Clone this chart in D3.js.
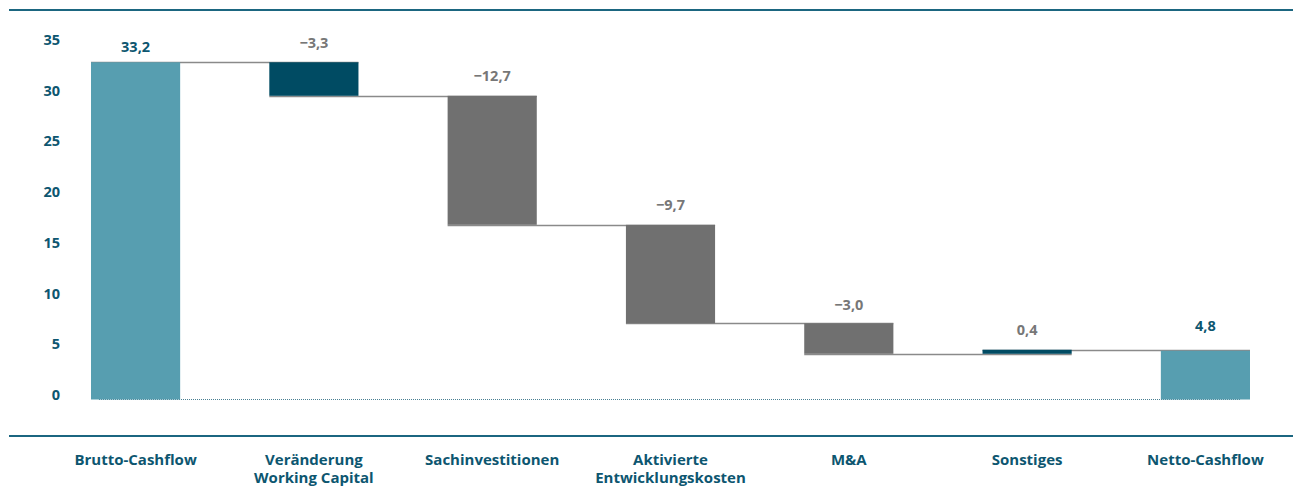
<!DOCTYPE html>
<html><head><meta charset="utf-8">
<script src="https://cdn.jsdelivr.net/npm/d3@7/dist/d3.min.js"></script>
<style>
body{margin:0;background:#fff;}
svg{display:block;font-family:"Open Sans","Noto Sans",sans-serif;}
</style></head>
<body><svg id="c" width="1293" height="486"></svg>
<script>
const categories = [["Brutto-Cashflow"],["Veränderung","Working Capital"],["Sachinvestitionen"],["Aktivierte","Entwicklungskosten"],["M&A"],["Sonstiges"],["Netto-Cashflow"]];
const values = [33.2, -3.3, -12.7, -9.7, -3.0, 0.4, 4.8];
const labels = ["33,2","\u22123,3","\u221212,7","\u22129,7","\u22123,0","0,4","4,8"];
const kinds = ["total","change","change","change","change","change","total"];
const yTicks = [0,5,10,15,20,25,30,35];

const colors = ["#579eb0","#004b63","#707070","#707070","#707070","#004b63","#579eb0"];
const labelColors = ["#0d5670","#777","#777","#777","#777","#777","#0d5670"];
const labelGap = [10,14,15,15,13,15,20];
const teal = "#0d5670";

const svg = d3.select("#c");
const x = d3.scaleBand().domain(d3.range(values.length)).range([91,1250]).paddingInner(0.5).paddingOuter(0);
const y = d3.scaleLinear().domain([0,35]).range([399.5, 44]);

let cum = 0;
const bars = values.map((v,i)=>{
  let y0,y1;
  if(kinds[i]==="total"){ y0=0; y1=v; cum=v; }
  else { y0=cum; y1=cum+v; cum=cum+v; }
  return {i, v, lo:Math.min(y0,y1), hi:Math.max(y0,y1), end:(kinds[i]==="total"?v:y1)};
});

svg.append("line").attr("x1",9).attr("x2",1293).attr("y1",10).attr("y2",10).attr("stroke","#1b6680").attr("stroke-width",2);
svg.append("line").attr("x1",9).attr("x2",1293).attr("y1",436).attr("y2",436).attr("stroke","#1b6680").attr("stroke-width",2);

svg.append("g").selectAll("text").data(yTicks).join("text")
  .attr("x",60).attr("y",d=>y(d)).attr("dy","0.05em")
  .attr("text-anchor","end").attr("fill",teal).attr("font-weight",700).attr("font-size",14.5)
  .text(d=>d);

svg.append("line").attr("x1",99).attr("x2",1240).attr("y1",y(0)).attr("y2",y(0))
  .attr("stroke","#4a7f92").attr("stroke-width",1).attr("stroke-dasharray","1,1");

const conn = svg.append("g");
for(let i=0;i<bars.length-1;i++){
  const lvl = bars[i].end;
  conn.append("line").attr("x1",x(i)).attr("x2",x(i+1)+x.bandwidth())
    .attr("y1",Math.round(y(lvl))+0.5).attr("y2",Math.round(y(lvl))+0.5)
    .attr("stroke","#8a8a8a").attr("stroke-width",1.5);
}

svg.append("g").selectAll("rect").data(bars).join("rect")
  .attr("x",d=>x(d.i)).attr("width",x.bandwidth())
  .attr("y",d=>y(d.hi)).attr("height",d=>Math.max(3,y(d.lo)-y(d.hi)))
  .attr("fill",d=>colors[d.i]);

svg.append("g").selectAll("text").data(bars).join("text")
  .attr("x",d=>x(d.i)+x.bandwidth()/2).attr("y",d=>y(d.hi)-labelGap[d.i])
  .attr("text-anchor","middle").attr("font-weight",700).attr("font-size",14.5)
  .attr("fill",d=>labelColors[d.i]).text(d=>labels[d.i]);

const cg = svg.append("g");
categories.forEach((lines,i)=>{
  const t = cg.append("text").attr("x",x(i)+x.bandwidth()/2).attr("y",465)
    .attr("text-anchor","middle").attr("font-weight",700).attr("font-size",15).attr("fill",teal);
  lines.forEach((l,j)=>t.append("tspan").attr("x",x(i)+x.bandwidth()/2).attr("dy",j?18:0).text(l));
});
</script></body></html>
